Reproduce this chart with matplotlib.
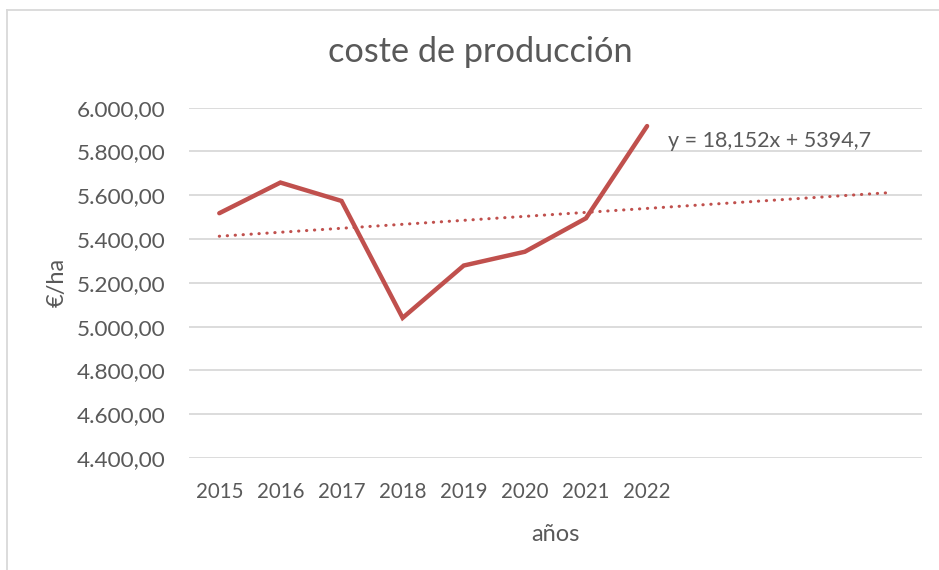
import numpy as np
import matplotlib.pyplot as plt
from matplotlib.lines import Line2D
from matplotlib.ticker import FuncFormatter

plt.rcParams.update({
    "font.family": ["Lato", "DejaVu Sans"],
    "text.color": "#595959",
    "axes.labelcolor": "#595959",
    "xtick.color": "#595959",
    "ytick.color": "#595959",
})

# ── Data ──────────────────────────────────────────────────────────────────
years = ["2015", "2016", "2017", "2018", "2019", "2020", "2021", "2022"]
coste = [5518, 5658, 5574, 5040, 5279, 5342, 5495, 5916]

# linear trendline shown on the chart, forecast 4 periods forward
trend_slope = 18.152
trend_intercept = 5394.7
forecast_periods = 4

LINE_COLOR = "#C0504D"
GRID_COLOR = "#D9D9D9"


def euro_fmt(v, _pos):
    s = f"{v:,.2f}"
    return s.replace(",", "X").replace(".", ",").replace("X", ".")


fig = plt.figure(figsize=(9.39, 5.70), dpi=100)
ax = fig.add_axes([0.201, 0.1965, 0.781, 0.6146])

x = np.arange(1, len(years) + 1)
ax.plot(x, coste, color=LINE_COLOR, linewidth=3.2, solid_joinstyle="miter",
        solid_capstyle="round", zorder=3)

xt = np.arange(1, len(years) + forecast_periods + 1)
ax.plot(xt, trend_slope * xt + trend_intercept, color=LINE_COLOR,
        linewidth=2.2, linestyle=(0, (0.1, 2.5)), dash_capstyle="round",
        zorder=2)

# ── Formatting ────────────────────────────────────────────────────────────
ax.set_xlim(0.5, len(xt) + 0.5)
ax.set_ylim(4400, 6000)
ax.set_yticks(np.arange(4400, 6001, 200))
ax.yaxis.set_major_formatter(FuncFormatter(euro_fmt))
ax.set_xticks(x)
ax.set_xticklabels(years)
ax.tick_params(axis="both", length=0)
ax.tick_params(axis="x", pad=17, labelsize=14.8)
ax.tick_params(axis="y", pad=17, labelsize=16.2)
for sp in ax.spines.values():
    sp.set_visible(False)
ax.grid(axis="y", color=GRID_COLOR, linewidth=1.3)
ax.set_axisbelow(True)

ax.set_xlabel("años", fontsize=17, labelpad=16)
ax.set_ylabel("€/ha", fontsize=17, labelpad=6)

fig.text(480 / 939, 1 - 52 / 570, "coste de producción", fontsize=24.7,
         ha="center", va="center")

eq = f"y = {trend_slope:.3f}x + {trend_intercept:.1f}".replace(".", ",")
fig.text(668 / 939, 1 - 141 / 570, eq, fontsize=15.5, ha="left", va="center")

# chart area border (only top and left edges fall inside the image)
fig.add_artist(Line2D([7 / 939, 1], [1 - 9.5 / 570] * 2, color=GRID_COLOR,
                      linewidth=1.3, transform=fig.transFigure))
fig.add_artist(Line2D([7 / 939] * 2, [0, 1 - 9.5 / 570], color=GRID_COLOR,
                      linewidth=1.3, transform=fig.transFigure))

fig.savefig("out.png", dpi=100)
plt.close()
